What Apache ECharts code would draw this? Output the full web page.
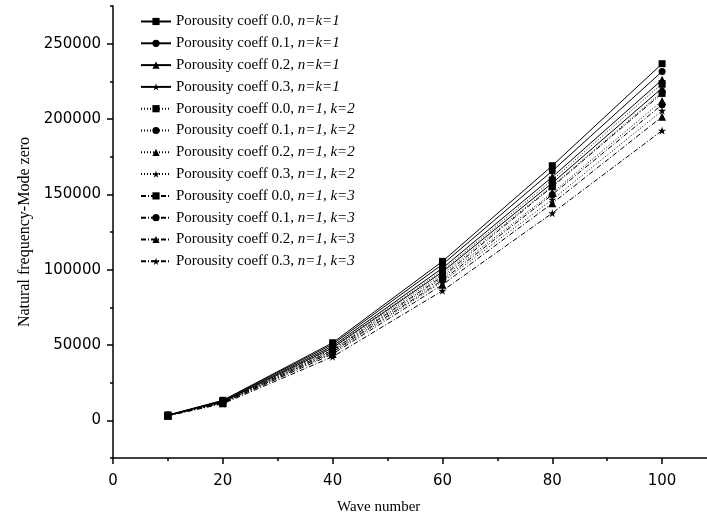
<!DOCTYPE html>
<html><head><meta charset="utf-8">
<script src="https://cdn.jsdelivr.net/npm/echarts@6/dist/echarts.min.js"></script>
<style>html,body{margin:0;padding:0;background:#fff}#c{width:707px;height:522px}</style>
</head><body><div id="c"></div>
<script>
const waveNumbers = [10, 20, 40, 60, 80, 100];
const porosity = ['0.0', '0.1', '0.2', '0.3'];
const kLabels = ['n=k=1', 'n=1, k=2', 'n=1, k=3'];
const xMajorTicks = [0, 20, 40, 60, 80, 100];
const xMinorTicks = [10, 30, 50, 70, 90];
const yMajorTicks = [0, 50000, 100000, 150000, 200000, 250000];
const yMinorTicks = [-25000, 25000, 75000, 125000, 175000, 225000, 275000];
const xAxisTitle = 'Wave number';
const yAxisTitle = 'Natural frequency-Mode zero';
// k = 1
const k1_p00 = [3500, 13300, 51500, 105500, 169000, 236700];
const k1_p01 = [3450, 13000, 50500, 103500, 165500, 231500];
const k1_p02 = [3400, 12700, 49300, 101000, 161500, 226000];
const k1_p03 = [3350, 12400, 48100, 98500, 157500, 220500];
// k = 2
const k2_p00 = [3350, 12500, 48500, 99500, 159500, 223500];
const k2_p01 = [3300, 12200, 47300, 97000, 155500, 218000];
const k2_p02 = [3250, 11900, 46100, 94500, 151000, 212000];
const k2_p03 = [3200, 11600, 44800, 92000, 146500, 205500];
// k = 3
const k3_p00 = [3300, 12100, 46600, 95500, 155000, 217000];
const k3_p01 = [3200, 11800, 45400, 93000, 149800, 209500];
const k3_p02 = [3100, 11400, 44000, 90000, 144000, 201500];
const k3_p03 = [3000, 11000, 42200, 86000, 137500, 192300];

const groups = [[k1_p00, k1_p01, k1_p02, k1_p03], [k2_p00, k2_p01, k2_p02, k2_p03], [k3_p00, k3_p01, k3_p02, k3_p03]];
const STAR = 'path://M50,0L61.2,34.5L97.6,34.5L68.2,55.9L79.4,90.5L50,69.1L20.6,90.5L31.8,55.9L2.4,34.5L38.8,34.5Z';
const symbols = ['rect', 'circle', 'triangle', STAR];
const symSizes = [7, 7, 8, 8];
const dashes = ['solid', [1, 2], [5, 2, 1, 2]];

const series = [];
const names = [];
groups.forEach((g, gi) => {
  g.forEach((vals, pi) => {
    const name = 'Porousity coeff ' + porosity[pi] + ', ' + kLabels[gi];
    names.push(name);
    series.push({
      name: name, type: 'line',
      data: waveNumbers.map((w, i) => [w, vals[i]]),
      symbol: symbols[pi], symbolSize: symSizes[pi],
      itemStyle: {color: '#000'},
      lineStyle: {color: '#000', width: 1, type: dashes[gi]},
      z: 10 - gi
    });
  });
});

const axisCol = {color: '#000', width: 1.5};
const plain = function (v) { return String(v); };
const chart = echarts.init(document.getElementById('c'));
chart.setOption({
  animation: false,
  backgroundColor: '#fff',
  grid: {left: 113, top: 6, width: 604, height: 452, containLabel: false, outerBoundsMode: 'none'},
  graphic: [{
    type: 'text', left: 337, top: 500,
    style: {text: xAxisTitle, fontFamily: 'Liberation Serif', fontSize: 15, fill: '#000'}
  }],
  legend: {
    data: names, orient: 'vertical', left: 135, top: 9, padding: 5,
    itemWidth: 30, itemHeight: 9, itemGap: 6.8,
    formatter: function (n) {
      const idx = n.indexOf(', ');
      return n.slice(0, idx + 2) + '{i|' + n.slice(idx + 2) + '}';
    },
    textStyle: {fontFamily: 'Liberation Serif', fontSize: 15, color: '#000',
      rich: {i: {fontFamily: 'Liberation Serif', fontStyle: 'italic', fontSize: 15, color: '#000'}}}
  },
  xAxis: [{
    type: 'value', min: 0, max: 110, interval: 10, position: 'bottom',
    axisLine: {onZero: false, lineStyle: axisCol},
    axisTick: {length: 6, lineStyle: axisCol, customValues: xMajorTicks},
    axisLabel: {fontFamily: 'DejaVu Sans', fontSize: 15, color: '#000', margin: 16, customValues: xMajorTicks, formatter: plain},
    splitLine: {show: false}
  }, {
    type: 'value', min: 0, max: 110, interval: 10, position: 'bottom', offset: 0,
    axisLine: {show: false, onZero: false},
    axisTick: {length: 3, lineStyle: axisCol, customValues: xMinorTicks},
    axisLabel: {show: false},
    splitLine: {show: false}
  }],
  yAxis: [{
    type: 'value', min: -25000, max: 275000, interval: 25000, position: 'left',
    name: yAxisTitle, nameLocation: 'middle', nameGap: 78,
    nameTextStyle: {fontFamily: 'Liberation Serif', fontSize: 16, color: '#000'},
    axisLine: {onZero: false, lineStyle: axisCol},
    axisTick: {length: 6, lineStyle: axisCol, customValues: yMajorTicks},
    axisLabel: {fontFamily: 'DejaVu Sans', fontSize: 15, color: '#000', margin: 12, customValues: yMajorTicks, formatter: plain},
    splitLine: {show: false}
  }, {
    type: 'value', min: -25000, max: 275000, interval: 25000, position: 'left', offset: 0,
    axisLine: {show: false, onZero: false},
    axisTick: {length: 3, lineStyle: axisCol, customValues: yMinorTicks},
    axisLabel: {show: false},
    splitLine: {show: false}
  }],
  series: series
});
</script></body></html>
